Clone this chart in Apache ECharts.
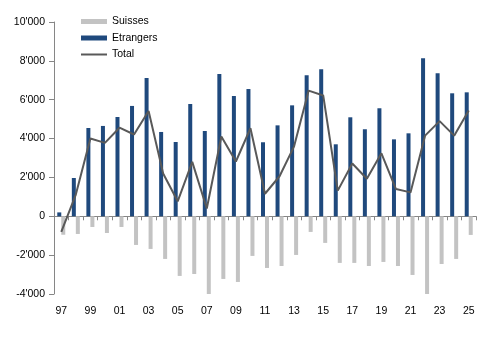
<!DOCTYPE html>
<html>
<head>
<meta charset="utf-8">
<script src="https://cdn.jsdelivr.net/npm/echarts@6/dist/echarts.min.js"></script>
<style>html,body{margin:0;padding:0;background:#fff}#c{width:491px;height:340px}</style>
</head>
<body>
<div id="c"></div>
<script>
const years = ['97','98','99','00','01','02','03','04','05','06','07','08','09','10','11','12','13','14','15','16','17','18','19','20','21','22','23','24','25'];
const suisses = [-950,-910,-550,-860,-550,-1475,-1680,-2195,-3070,-2970,-4000,-3225,-3380,-2040,-2660,-2560,-1990,-805,-1370,-2400,-2400,-2560,-2350,-2560,-3020,-4000,-2455,-2195,-960];
const etrangers = [200,1970,4545,4650,5110,5680,7120,4340,3825,5780,4390,7320,6190,6550,3810,4680,5710,7260,7565,3705,5095,4480,5560,3960,4270,8130,7360,6330,6380];
const total = [-800,1120,4000,3780,4560,4210,5420,2200,770,2800,400,4110,2820,4530,1160,2060,3600,6470,6220,1320,2720,1930,3240,1400,1230,4150,4900,4150,5450];
const yTicks = {min:-4000, max:10000, interval:2000};

const font = 'Liberation Sans';
const chart = echarts.init(document.getElementById('c'), null, {renderer:'canvas'});
const fmt = v => {
  const s = Math.abs(v).toString();
  const t = s.replace(/\B(?=(\d{3})+(?!\d))/g, "'");
  return (v < 0 ? '-' : '') + t;
};
chart.setOption({
  animation:false,
  backgroundColor:'#fff',
  textStyle:{fontFamily:font},
  grid:{left:54, right:15, top:22, bottom:46, containLabel:false},
  legend:{
    orient:'vertical', left:75, top:11, itemWidth:26, itemHeight:5, itemGap:5.5,
    textStyle:{fontFamily:font, fontSize:10.5, color:'#000'},
    data:[{name:'Suisses', icon:'rect'},{name:'Etrangers', icon:'rect'},{name:'Total', itemStyle:{opacity:0}}]
  },
  xAxis:[
    {type:'category', data:years, position:'bottom',
     axisLine:{show:false, onZero:false}, axisTick:{show:false},
     axisLabel:{interval:1, fontFamily:font, fontSize:10.5, color:'#000', margin:12}},
    {type:'category', data:years, position:'bottom',
     axisLine:{show:true, onZero:true, lineStyle:{color:'#868686', width:1}},
     axisTick:{show:true, interval:0, length:4, lineStyle:{color:'#868686'}},
     axisLabel:{show:false}}
  ],
  yAxis:{
    type:'value', min:yTicks.min, max:yTicks.max, interval:yTicks.interval,
    axisLine:{show:true, lineStyle:{color:'#868686'}},
    axisTick:{show:true, length:5, lineStyle:{color:'#868686'}},
    splitLine:{show:false},
    axisLabel:{formatter:fmt, fontFamily:font, fontSize:10.5, color:'#000', margin:9}
  },
  series:[
    {name:'Etrangers', type:'bar', data:etrangers, barWidth:4, barGap:'0%', itemStyle:{color:'#1f497d'}},
    {name:'Suisses', type:'bar', data:suisses, barWidth:4, barGap:'0%', itemStyle:{color:'#c3c3c3'}},
    {name:'Total', type:'line', data:total, symbol:'none', lineStyle:{color:'#595959', width:2}, itemStyle:{color:'#595959'}}
  ]
});
</script>
</body>
</html>
